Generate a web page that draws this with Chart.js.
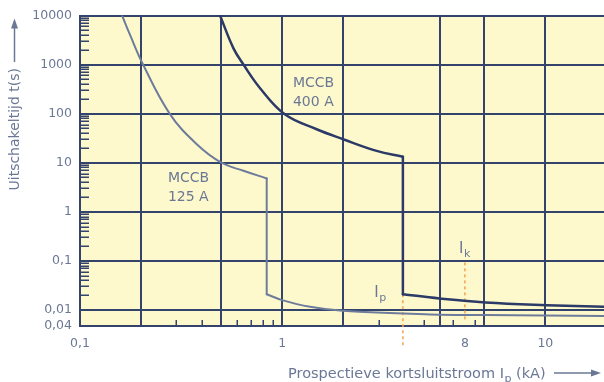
<!DOCTYPE html>
<html>
<head>
<meta charset="utf-8">
<script src="https://cdn.jsdelivr.net/npm/chart.js@4.4.1/dist/chart.umd.min.js"></script>
<style>
  html, body { margin: 0; padding: 0; background: #ffffff; }
  #wrap { width: 604px; height: 382px; }
</style>
</head>
<body>
<div id="wrap"><canvas id="myChart" width="604" height="382"></canvas></div>
<script>
// axis ranges
const xMin = 0.1, xMax = 39
const yMin = 0.0047, yMax = 10000

// x axis (kA): grid lines, labelled ticks and small ticks
const xGridValues = [0.1, 0.2, 0.5, 1, 2, 6, 10, 20]
const xLabelValues = [0.1, 1, 8, 20]
const xLabelTexts = ['0,1', '1', '8', '10']
const xMinorValues = [0.3, 0.4, 0.6, 0.7, 0.8, 0.9, 3, 5, 7, 9]

// y axis (s)
const yTickValues = [yMin, 0.01, 0.1, 1, 10, 100, 1000, 10000]
const yTickTexts = ['0,04', '0,01', '0,1', '1', '10', '100', '1000', '10000']
const yMinorDecades = [0.01, 0.1, 1, 10, 100, 1000]
const yMinorSteps = [2, 3, 4, 5, 6, 7, 8, 9]

// MCCB 125 A curve
const current125Upper = [0.1615, 0.1766, 0.205, 0.279, 0.378, 0.498, 0.643, 0.838]
const time125Upper = [10000, 4060, 1000, 96.8, 23.8, 10.1, 6.85, 4.78]
const current125Lower = [0.838, 1.0, 1.373, 1.99, 5.4, 10.1, 39]
const time125Lower = [0.0209, 0.0158, 0.01156, 0.00959, 0.0081, 0.00785, 0.00748]

// MCCB 400 A curve
const current400Upper = [0.4925, 0.574, 0.643, 0.777, 1.03, 1.48, 2.0, 2.93, 3.95]
const time400Upper = [10000, 2140, 1000, 330, 96.8, 48.1, 30.1, 17.4, 13.2]
const current400Lower = [3.95, 6.0, 10.1, 20.3, 39]
const time400Lower = [0.0209, 0.0171, 0.0142, 0.0125, 0.01156]

// dotted markers I_p and I_k
const markerCurrents = [3.95, 8]
const markerTopTimes = [0.0209, 0.093]
const markerBottomTimes = [0.00176, 0.00566]
const markerMain = ['I', 'I']
const markerSub = ['p', 'k']
const markerLabelAt = [{ x: 2.85, y: 0.0185 }, { x: 7.48, y: 0.143 }]

// curve names
const curveLabels = [
    { lines: ['MCCB', '125 A'], x: 0.272, y: 4.1 },
    { lines: ['MCCB', '400 A'], x: 1.13, y: 347 }
]

const plotBg = '#fef9cc'
const gridColor = '#34436c'
const textColor = '#6b7895'
const color125 = '#6e7c9c'
const color400 = '#2c3a68'
const markerColor = '#f3a34c'
const FONT = "'DejaVu Sans', Verdana, sans-serif"

function pts(xs, ys) {
    return xs.map((x, i) => ({ x: x, y: ys[i] }))
}

function curveSets(xsUp, ysUp, xsLow, ysLow, color, width) {
    var base = { borderColor: color, borderWidth: width, pointRadius: 0, fill: false, borderJoinStyle: 'round', borderCapStyle: 'round' }
    var last = xsUp.length - 1
    return [
        Object.assign({ data: pts(xsUp, ysUp), tension: 0.4 }, base),
        // vertical drop between the two parts
        Object.assign({ data: [{ x: xsUp[last], y: ysUp[last] }, { x: xsLow[0], y: ysLow[0] }], tension: 0 }, base),
        Object.assign({ data: pts(xsLow, ysLow), tension: 0.4 }, base)
    ]
}

// draws "I" with a small subscript letter
function subText(ctx, main, sub, x, y, size) {
    ctx.font = size + 'px ' + FONT
    ctx.fillText(main, x, y)
    var w = ctx.measureText(main).width
    ctx.font = Math.round(size * 0.75) + 'px ' + FONT
    ctx.fillText(sub, x + w + 0.5, y + 4)
    return w + 0.5 + ctx.measureText(sub).width
}

const decor = {
    id: 'decor',
    beforeDraw(chart) {
        var a = chart.chartArea, ctx = chart.ctx
        ctx.save()
        ctx.fillStyle = plotBg
        ctx.fillRect(a.left, a.top, a.right - a.left, a.bottom - a.top)
        ctx.restore()
    },
    beforeDatasetsDraw(chart) {
        var a = chart.chartArea, ctx = chart.ctx
        var xs = chart.scales.x, ys = chart.scales.y
        ctx.save()
        ctx.strokeStyle = gridColor
        ctx.lineWidth = 1.5
        ctx.beginPath()
        // small ticks on the left axis
        yMinorDecades.forEach(d => {
            yMinorSteps.forEach(k => {
                var py = Math.round(ys.getPixelForValue(d * k)) + 0.25
                ctx.moveTo(a.left, py)
                ctx.lineTo(a.left + 9, py)
            })
        })
        // small ticks on the bottom axis
        xMinorValues.forEach(v => {
            var px = Math.round(xs.getPixelForValue(v)) + 0.25
            ctx.moveTo(px, a.bottom)
            ctx.lineTo(px, a.bottom - 6)
        })
        ctx.stroke()

        // dotted marker lines
        ctx.strokeStyle = markerColor
        ctx.lineWidth = 1.5
        ctx.setLineDash([3, 3])
        markerCurrents.forEach((c, i) => {
            var px = xs.getPixelForValue(c)
            ctx.beginPath()
            ctx.moveTo(px, ys.getPixelForValue(markerTopTimes[i]))
            ctx.lineTo(px, ys.getPixelForValue(markerBottomTimes[i]))
            ctx.stroke()
        })
        ctx.restore()
    },
    afterDraw(chart) {
        var a = chart.chartArea, ctx = chart.ctx
        var xs = chart.scales.x, ys = chart.scales.y
        ctx.save()
        ctx.fillStyle = textColor
        ctx.strokeStyle = textColor
        ctx.textBaseline = 'alphabetic'
        ctx.textAlign = 'left'

        // curve names
        ctx.font = '14px ' + FONT
        curveLabels.forEach(l => {
            var px = xs.getPixelForValue(l.x), py = ys.getPixelForValue(l.y)
            l.lines.forEach((t, j) => ctx.fillText(t, px, py + j * 19))
        })

        // I_p, I_k
        markerMain.forEach((m, i) => {
            subText(ctx, m, markerSub[i], xs.getPixelForValue(markerLabelAt[i].x), ys.getPixelForValue(markerLabelAt[i].y), 15)
        })

        // x axis title with arrow
        var tx = 288, ty = 378
        ctx.font = '14.5px ' + FONT
        var part1 = 'Prospectieve kortsluitstroom '
        ctx.fillText(part1, tx, ty)
        tx += ctx.measureText(part1).width
        tx += subText(ctx, 'I', 'p', tx, ty, 14.5)
        ctx.font = '14.5px ' + FONT
        ctx.fillText(' (kA)', tx, ty)
        ctx.lineWidth = 1.5
        ctx.beginPath()
        ctx.moveTo(554, 373); ctx.lineTo(593, 373)
        ctx.stroke()
        ctx.beginPath()
        ctx.moveTo(601, 373); ctx.lineTo(591, 369.5); ctx.lineTo(591, 376.5); ctx.closePath()
        ctx.fill()

        // y axis title with arrow (rotated)
        var yt = 'Uitschakeltijd t(s)'
        ctx.font = '14px ' + FONT
        var w = ctx.measureText(yt).width
        ctx.save()
        ctx.translate(19, 68 + w)
        ctx.rotate(-Math.PI / 2)
        ctx.fillText(yt, 0, 0)
        ctx.restore()
        ctx.beginPath()
        ctx.moveTo(14.5, 62); ctx.lineTo(14.5, 24)
        ctx.stroke()
        ctx.beginPath()
        ctx.moveTo(14.5, a.top + 3); ctx.lineTo(11, a.top + 13); ctx.lineTo(18, a.top + 13); ctx.closePath()
        ctx.fill()
        ctx.restore()
    }
}

const datasets = [].concat(
    curveSets(current125Upper, time125Upper, current125Lower, time125Lower, color125, 2),
    curveSets(current400Upper, time400Upper, current400Lower, time400Lower, color400, 2.5)
)

new Chart('myChart', {
    type: 'line',
    data: { datasets: datasets },
    plugins: [decor],
    options: {
        responsive: false,
        animation: false,
        events: [],
        layout: { padding: { top: 14, right: 0, left: 0, bottom: 0 } },
        plugins: { legend: { display: false }, tooltip: { enabled: false } },
        scales: {
            x: {
                type: 'logarithmic',
                min: xMin,
                max: xMax,
                afterBuildTicks: (s) => {
                    var vals = xGridValues.concat(xLabelValues.filter(v => xGridValues.indexOf(v) < 0)).sort((p, q) => p - q)
                    s.ticks = vals.map(v => ({ value: v }))
                },
                afterFit: (s) => { s.height = 56 },
                grid: {
                    color: (c) => (c.tick && xGridValues.indexOf(c.tick.value) >= 0) ? gridColor : 'rgba(0,0,0,0)',
                    lineWidth: 2,
                    drawTicks: false
                },
                border: { color: gridColor, width: 2 },
                ticks: {
                    autoSkip: false,
                    maxRotation: 0,
                    padding: 10,
                    color: textColor,
                    font: { family: FONT, size: 12.5 },
                    callback: (v) => {
                        var i = xLabelValues.indexOf(v)
                        return i >= 0 ? xLabelTexts[i] : ''
                    }
                }
            },
            y: {
                type: 'logarithmic',
                min: yMin,
                max: yMax,
                afterBuildTicks: (s) => { s.ticks = yTickValues.map(v => ({ value: v })) },
                afterFit: (s) => { s.width = 80 },
                grid: { color: gridColor, lineWidth: 2, drawTicks: false },
                border: { color: gridColor, width: 2 },
                ticks: {
                    autoSkip: false,
                    padding: 8,
                    color: textColor,
                    font: { family: FONT, size: 12.5 },
                    callback: (v) => {
                        var i = yTickValues.indexOf(v)
                        return i >= 0 ? yTickTexts[i] : ''
                    }
                }
            }
        }
    }
})
</script>
</body>
</html>
